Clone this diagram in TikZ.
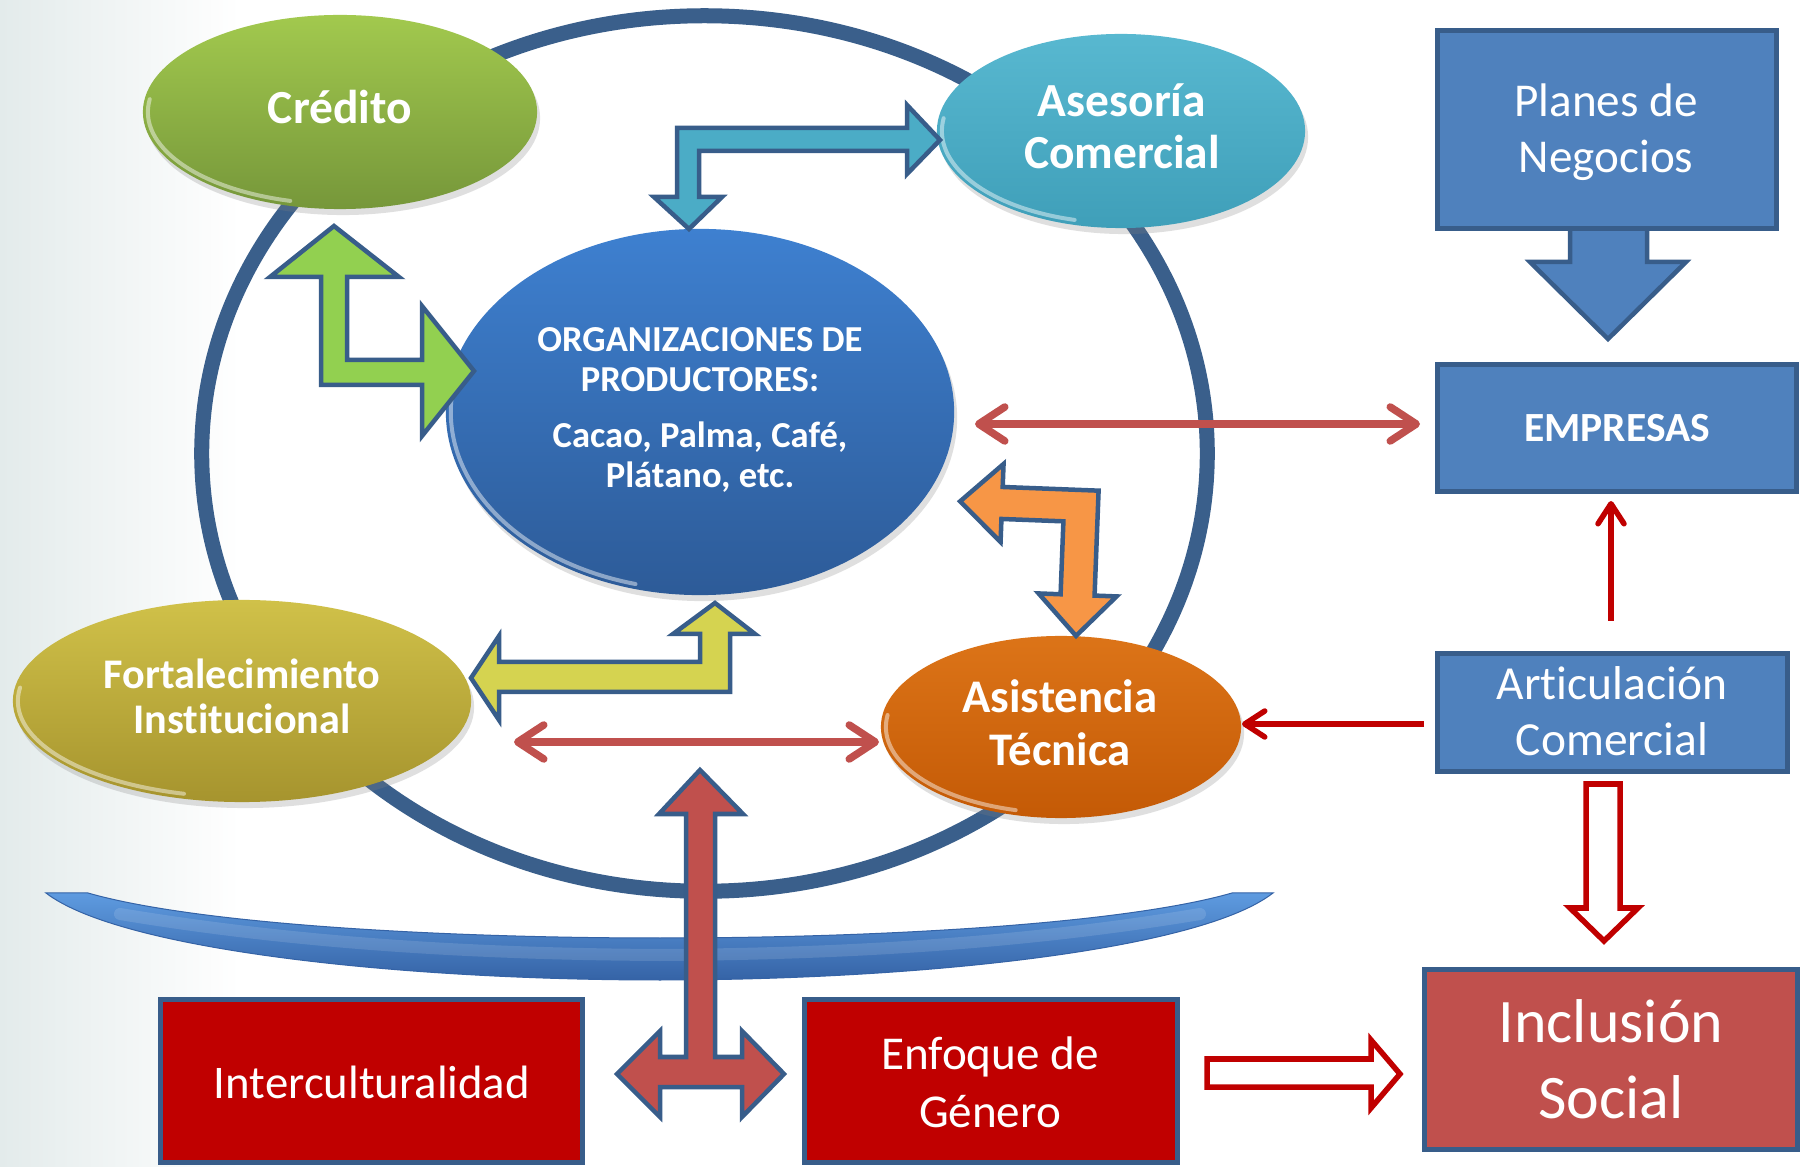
\documentclass[tikz,border=0pt]{standalone}
\usepackage{fontspec}
\setmainfont{Carlito}[Ligatures=NoCommon]
\usetikzlibrary{shapes.geometric,arrows.meta,shadows}
\definecolor{boxline}{HTML}{385D8A}
\definecolor{boxblue}{HTML}{4F81BD}
\definecolor{deepred}{HTML}{C00000}
\definecolor{softred}{HTML}{C0504D}
\definecolor{circline}{HTML}{3A5F8B}
\definecolor{greenfill}{HTML}{92D050}
\definecolor{tealfill}{HTML}{4BACC6}
\definecolor{yellowfill}{HTML}{D5D350}
\definecolor{orangefill}{HTML}{F79646}
\definecolor{credtop}{HTML}{A2C94E}
\definecolor{credbot}{HTML}{76973A}
\definecolor{asetop}{HTML}{58B8D0}
\definecolor{asebot}{HTML}{3F9FB9}
\definecolor{orgtop}{HTML}{3E80D0}
\definecolor{orgbot}{HTML}{2D5B98}
\definecolor{forttop}{HTML}{D0C149}
\definecolor{fortbot}{HTML}{A6942E}
\definecolor{asitop}{HTML}{DC7418}
\definecolor{asibot}{HTML}{C45A06}
\definecolor{barlight}{HTML}{5E9BE0}
\definecolor{bardark}{HTML}{3563A6}
\definecolor{bggray}{HTML}{E3EBEB}
\newcommand\myfs[1]{\fontsize{#1}{#1}\selectfont}
\begin{document}
\begin{tikzpicture}[x=0.01cm,y=-0.01cm,
  oval/.style={ellipse,inner sep=0pt,draw=none,
    drop shadow={shadow xshift=0.03cm,shadow yshift=-0.06cm,opacity=0.25}},
  box/.style={rectangle,draw=boxline,line width=0.05cm,inner sep=0pt},
  lbl/.style={anchor=base,inner sep=0pt,text=white},
  blockarrow/.style={draw=boxline,line width=0.045cm,line join=miter},
  hollowarrow/.style={draw=deepred,fill=white,line width=0.055cm,line join=miter},
  redlink/.style={draw=softred,line width=0.075cm,line cap=round,
    >={Straight Barb[length=0.26cm,width=0.34cm,line cap=round,line join=round]},<->},
  darklink/.style={draw=deepred,line width=0.055cm,
    >={Straight Barb[length=0.2cm,width=0.26cm,line cap=round,line join=round]},->},
  gloss/.style={draw=white,opacity=0.45,line width=0.04cm,line cap=round},
  ring/.style={draw=circline,line width=0.15cm}]
\useasboundingbox (0,0) rectangle (1802,1167);
\fill[white] (0,0) rectangle (1802,1167);
\shade[left color=bggray,right color=white] (0,0) rectangle (240,1167);

% big ring
\draw[ring] (704.5,453.5) ellipse [x radius=5.025cm,y radius=4.375cm];

% curved bar
\shade[top color=barlight,bottom color=bardark,draw=bardark,line width=0.01cm]
  (46,893) -- (88,893) .. controls (200,925) and (450,938) .. (660,938)
  .. controls (870,938) and (1120,925) .. (1232,893) -- (1273,893)
  .. controls (1200,950) and (920,980) .. (660,980)
  .. controls (400,980) and (120,950) .. (46,893) -- cycle;
\draw[white,opacity=0.12,line width=0.12cm,line cap=round]
  (120,914) .. controls (300,944) and (480,954) .. (660,955)
  .. controls (840,954) and (1020,944) .. (1200,914);

% ellipses
\node[oval,top color=credtop,bottom color=credbot,minimum width=3.94cm,minimum height=1.94cm] (credito) at (340,112) {};
\node[oval,top color=asetop,bottom color=asebot,minimum width=3.68cm,minimum height=1.94cm] (asesoria) at (1121,131) {};
\node[oval,top color=orgtop,bottom color=orgbot,minimum width=5.08cm,minimum height=3.66cm] (org) at (700,412) {};
\node[oval,top color=forttop,bottom color=fortbot,minimum width=4.58cm,minimum height=2.02cm] (fort) at (242,701) {};
\node[oval,top color=asitop,bottom color=asibot,minimum width=3.60cm,minimum height=1.82cm] (asist) at (1061,727) {};

% gloss rims
\draw[gloss] (credito.center) ++(172:1.92cm and 0.92cm) arc[start angle=172,end angle=255,x radius=1.92cm,y radius=0.92cm];
\draw[gloss] (asesoria.center) ++(172:1.79cm and 0.92cm) arc[start angle=172,end angle=255,x radius=1.79cm,y radius=0.92cm];
\draw[gloss] (org.center) ++(165:2.49cm and 1.78cm) arc[start angle=165,end angle=255,x radius=2.49cm,y radius=1.78cm];
\draw[gloss] (fort.center) ++(172:2.24cm and 0.96cm) arc[start angle=172,end angle=255,x radius=2.24cm,y radius=0.96cm];
\draw[gloss] (asist.center) ++(172:1.75cm and 0.86cm) arc[start angle=172,end angle=255,x radius=1.75cm,y radius=0.86cm];

% block arrow Planes -> Empresas (under the box)
\draw[blockarrow,fill=boxblue] (1570,226) -- (1570,262) -- (1530,262) -- (1608,339)
  -- (1686,262) -- (1647,262) -- (1647,226) -- cycle;

% boxes
\node[box,fill=boxblue,minimum width=3.39cm,minimum height=1.98cm] (planes) at (1607,129.5) {};
\node[box,fill=boxblue,minimum width=3.59cm,minimum height=1.27cm] (empresas) at (1617,428) {};
\node[box,fill=boxblue,minimum width=3.50cm,minimum height=1.18cm] (artic) at (1612.5,712.5) {};
\node[box,fill=softred,minimum width=3.73cm,minimum height=1.80cm] (inclusion) at (1611,1059.5) {};
\node[box,fill=deepred,minimum width=3.73cm,minimum height=1.63cm] (enfoque) at (991,1081) {};
\node[box,fill=deepred,minimum width=4.22cm,minimum height=1.63cm] (intercult) at (371.5,1081) {};

% bent block arrows
\draw[blockarrow,fill=tealfill] (689,229) -- (722,197) -- (699,197) -- (699,151)
  -- (907,151) -- (907,174) -- (940,140) -- (907,105) -- (907,128)
  -- (677,128) -- (677,197) -- (654,197) -- cycle;
\draw[blockarrow,fill=greenfill] (334,226) -- (399,277) -- (347,277) -- (347,360)
  -- (422,360) -- (422,306) -- (474,371) -- (422,436) -- (422,385)
  -- (321,385) -- (321,277) -- (270,277) -- cycle;
\draw[blockarrow,fill=yellowfill] (715,603) -- (755,634) -- (730,634) -- (730,692)
  -- (499,692) -- (499,720) -- (471,678) -- (499,636) -- (499,662)
  -- (700,662) -- (700,634) -- (673,634) -- cycle;
\begin{scope}[rotate around={-2.2:(1081,506)}]
\draw[blockarrow,fill=orangefill] (960,506) -- (1002,467) -- (1002,490) -- (1098,490)
  -- (1098,595) -- (1120,595) -- (1081,636) -- (1042,595) -- (1064,595)
  -- (1064,522) -- (1002,522) -- (1002,545) -- cycle;
\end{scope}

% T block arrow
\draw[blockarrow,fill=softred] (700,770) -- (743,814) -- (715,814) -- (715,1057)
  -- (742,1057) -- (742,1031) -- (784,1074) -- (742,1117) -- (742,1087)
  -- (660,1087) -- (660,1117) -- (617,1074) -- (660,1031) -- (660,1057)
  -- (686,1057) -- (686,814) -- (659,814) -- cycle;

% hollow arrows
\draw[hollowarrow] (1586,784) -- (1620,784) -- (1620,908) -- (1638,908) -- (1604,941)
  -- (1570,908) -- (1586,908) -- cycle;
\draw[hollowarrow] (1207,1059) -- (1371,1059) -- (1371,1040) -- (1400,1074)
  -- (1371,1108) -- (1371,1087) -- (1207,1087) -- cycle;

% thin arrows
\coordinate (orgR) at (975,424);
\coordinate (empL) at (1420,424);
\coordinate (fortR) at (514,742);
\coordinate (asiL) at (879,742);
\coordinate (artL) at (1424,724);
\coordinate (asiR) at (1242,724);
\coordinate (artT) at (1611,621);
\coordinate (empB) at (1611,501);
\draw[redlink] (orgR) -- (empL);
\draw[redlink] (fortR) -- (asiL);
\draw[darklink] (artL) -- (asiR);
\draw[darklink] (artT) -- (empB);

% texts
\node[lbl,font=\myfs{13.5}\bfseries] (tcred) at (340,124) {Crédito};
\node[lbl,font=\myfs{13.5}\bfseries] (tase1) at (1122,117) {Asesoría};
\node[lbl,font=\myfs{13.5}\bfseries] (tase2) at (1122,169) {Comercial};
\node[lbl,font=\myfs{10.4}\bfseries] (torg1) at (700,352) {ORGANIZACIONES DE};
\node[lbl,font=\myfs{10.4}\bfseries] (torg2) at (700,392) {PRODUCTORES:};
\node[lbl,font=\myfs{10.4}\bfseries] (torg3) at (700,448) {Cacao, Palma, Café,};
\node[lbl,font=\myfs{10.4}\bfseries] (torg4) at (700,488) {Plátano, etc.};
\node[lbl,font=\myfs{12}\bfseries] (tfort1) at (242,689) {Fortalecimiento};
\node[lbl,font=\myfs{12}\bfseries] (tfort2) at (242,734) {Institucional};
\node[lbl,font=\myfs{13.3}\bfseries] (tasi1) at (1060,713) {Asistencia};
\node[lbl,font=\myfs{13.3}\bfseries] (tasi2) at (1060,765) {Técnica};
\node[lbl,font=\myfs{13.4}] (tpla1) at (1606,117) {Planes de};
\node[lbl,font=\myfs{13.4}] (tpla2) at (1606,173) {Negocios};
\node[lbl,font=\myfs{11.8}\bfseries] (temp) at (1617,442) {EMPRESAS};
\node[lbl,font=\myfs{13.5}] (tart1) at (1612,700) {Articulación};
\node[lbl,font=\myfs{13.5}] (tart2) at (1612,756) {Comercial};
\node[lbl,font=\myfs{17.6}] (tinc1) at (1611,1042) {Inclusión};
\node[lbl,font=\myfs{17.6}] (tinc2) at (1611,1118) {Social};
\node[lbl,font=\myfs{13.3}] (tint) at (372,1098) {Interculturalidad};
\node[lbl,font=\myfs{13.4}] (tenf1) at (990,1069) {Enfoque de};
\node[lbl,font=\myfs{13.4}] (tenf2) at (990,1127) {Género};
\end{tikzpicture}
\end{document}
